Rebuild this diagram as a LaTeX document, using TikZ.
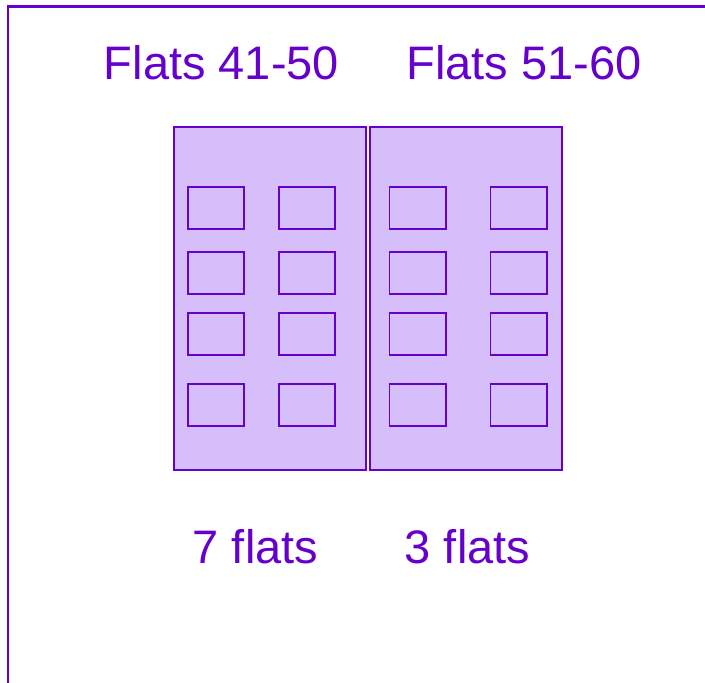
\documentclass[tikz,border=0pt]{standalone}
\usepackage{fontspec}
\setmainfont{Liberation Sans}
\definecolor{pur}{HTML}{6600CC}
\definecolor{lpur}{HTML}{D6BEFA}
\begin{document}
\begin{tikzpicture}[x=1pt,y=-1pt,
  bldg/.style={draw=pur,fill=lpur,line width=1.5pt},
  win/.style={draw=pur,line width=1.6pt},
  lbl/.style={text=pur,font=\fontsize{47}{50}\selectfont,anchor=base,inner sep=0pt}]
\useasboundingbox (0,0) rectangle (705,683);
\draw[pur,line width=2.2pt] (8,683) -- (8,6.5) -- (705,6.5);
\node[lbl] (t1) at (221.5,79) {Flats 41-50};
\node[lbl] (t2) at (524,79) {Flats 51-60};
\draw[bldg] (174,127) rectangle (366,470);
\draw[bldg] (370,127) rectangle (562,470);
\foreach \y in {187,252,313,384}{
  \draw[win] (188,\y) rectangle (244,\y+42);
  \draw[win] (279,\y) rectangle (335,\y+42);
  \draw[win] (389.5,\y) rectangle (446,\y+42);
  \draw[win] (490.5,\y) rectangle (547,\y+42);
}
\node[lbl] (b1) at (255.5,563) {7 flats};
\node[lbl] (b2) at (467.5,563) {3 flats};
\end{tikzpicture}
\end{document}
